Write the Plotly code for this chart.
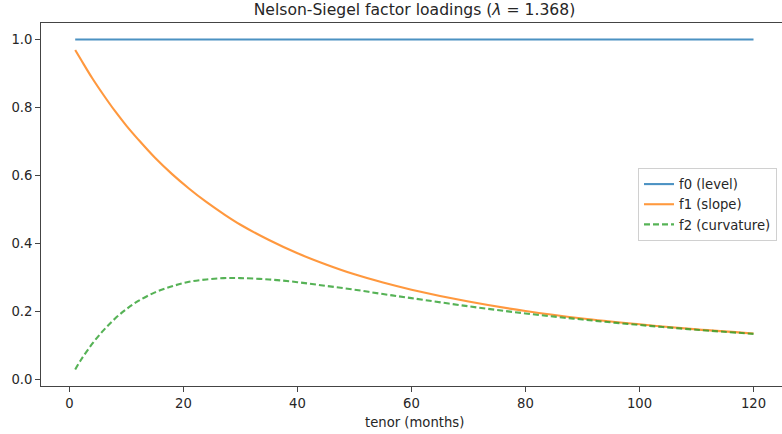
import plotly.graph_objects as go

# tenor (months) sample points
tenor = [1, 2, 4, 6, 8, 10, 12, 15, 18, 21, 24, 27, 30, 35, 40, 45, 50, 55, 60, 70, 80, 90, 100, 110, 120]
f0_level = [1.0] * len(tenor)
f1_slope = [0.969, 0.941, 0.886, 0.836, 0.789, 0.746, 0.707, 0.652, 0.604, 0.561, 0.522, 0.487,
            0.455, 0.410, 0.371, 0.338, 0.309, 0.285, 0.264, 0.229, 0.201, 0.179, 0.162, 0.147, 0.135]
f2_curv = [0.029, 0.057, 0.105, 0.145, 0.179, 0.207, 0.230, 0.256, 0.274, 0.287, 0.294, 0.298,
           0.298, 0.294, 0.286, 0.275, 0.264, 0.251, 0.239, 0.215, 0.194, 0.176, 0.160, 0.146, 0.134]
xticks = [0, 20, 40, 60, 80, 100, 120]
yticks = [0.0, 0.2, 0.4, 0.6, 0.8, 1.0]
title_text = "Nelson-Siegel factor loadings (<i>λ</i> = 1.368)"
xlabel = "tenor (months)"

FONT = "DejaVu Sans"
FS = 13.2
W, H = 782, 434
L, T, B = 41, 23, 48

fig = go.Figure()
fig.add_trace(go.Scatter(x=tenor, y=f0_level, mode="lines", name="f0 (level)",
                         line=dict(color="#1f77b4", width=2.1), opacity=0.8))
fig.add_trace(go.Scatter(x=tenor, y=f1_slope, mode="lines", name="f1 (slope)",
                         line=dict(color="#ff7f0e", width=2.1, shape="spline"), opacity=0.8))
fig.add_trace(go.Scatter(x=tenor, y=f2_curv, mode="lines", name="f2 (curvature)",
                         line=dict(color="#2ca02c", width=2.1, shape="spline", dash="6px,3px"), opacity=0.8))

axis_common = dict(showgrid=False, zeroline=False, showline=True, linecolor="#444", linewidth=1,
                   ticks="outside", ticklen=5, tickwidth=1, tickcolor="#444",
                   tickfont=dict(family=FONT, size=FS, color="#262626"))

fig.update_layout(
    width=W, height=H,
    margin=dict(l=L, r=0, t=T, b=B, pad=0),
    paper_bgcolor="white", plot_bgcolor="white",
    font=dict(family=FONT, size=FS, color="#262626"),
    title=dict(text=title_text, x=(414.5) / W, xanchor="center", y=1 - 10 / H, yanchor="middle",
               font=dict(family=FONT, size=15.6, color="#262626")),
    xaxis=dict(range=[-5.0, 125.0], tickvals=xticks, ticktext=[str(v) for v in xticks],
               mirror=True, **axis_common),
    yaxis=dict(range=[-0.0195, 1.0486], tickvals=yticks, ticktext=[f"{v:.1f}" for v in yticks],
               mirror=False, **axis_common),
    legend=dict(x=(777 - L) / (W - L), xanchor="right", y=0.5, yanchor="middle",
                bgcolor="rgba(255,255,255,0.8)", bordercolor="#d0d0d0", borderwidth=1,
                font=dict(family=FONT, size=FS, color="#262626"), itemwidth=30,
                tracegroupgap=0),
    showlegend=True,
)

fig.add_annotation(text=xlabel, xref="paper", yref="paper",
                   x=(414.5 - L) / (W - L), y=-(422 - (H - B)) / (H - T - B),
                   xanchor="center", yanchor="middle", showarrow=False,
                   font=dict(family=FONT, size=FS, color="#262626"))

fig.write_html("out.html", config={"displayModeBar": False},
               post_script="document.body.style.margin='0';document.body.style.overflow='hidden';")
